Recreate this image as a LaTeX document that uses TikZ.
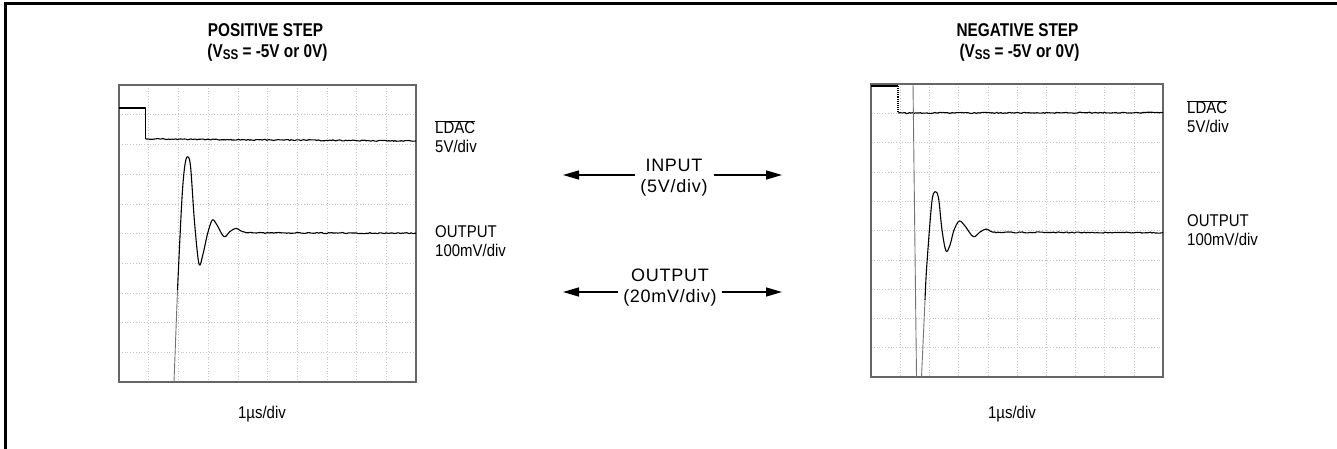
\documentclass[tikz,border=0pt]{standalone}
\usepackage{fontspec}
\usepackage{graphicx}
\setmainfont{Liberation Sans}
\newfontfamily\spc{Liberation Sans}[LetterSpace=4]
\newcommand{\cndx}[1]{\scalebox{0.88}[1]{#1}}
\newcommand{\cndt}[1]{\scalebox{0.83}[1]{#1}}
\usetikzlibrary{arrows.meta,decorations.pathmorphing}
\begin{document}
\begin{tikzpicture}[x=1pt,y=-1pt,
  lbl/.style={font=\fontsize{17}{19}\selectfont, anchor=base west, inner sep=0pt},
  ttl/.style={font=\bfseries\fontsize{18.5}{21}\selectfont, anchor=base, inner sep=0pt},
  ctr/.style={font=\spc\fontsize{18}{21}\selectfont, align=center, inner sep=0pt},
  scope box/.style={draw=black!60, line width=1.3pt},
  gridline/.style={gray!45, line width=0.6pt, dash pattern=on 0.8pt off 2pt},
  trace/.style={black, line width=1.1pt, line join=round},
  noisy/.style={trace, decorate, decoration={random steps, segment length=1.6pt, amplitude=0.55pt}},
  fast/.style={black!55, line width=0.9pt},
  arr/.style={line width=1.4pt, -{Triangle[length=16pt,width=9pt]}}]
\pgfmathsetseed{11}
\fill[white] (0,0) rectangle (1337,449);
\useasboundingbox (0,0) rectangle (1337,449);
% outer frame (top and left edges)
\draw[line width=2.8pt, line join=miter] (5.5,449) -- (5.5,3.2) -- (1337,3.2);

% ---------- left scope ----------
\foreach \i in {1,...,9} {
  \draw[gridline] ({119+\i*29.7},85) -- ({119+\i*29.7},382);
  \draw[gridline] (119,{85+\i*29.7}) -- (416,{85+\i*29.7});
}
\node[scope box, minimum width=297pt, minimum height=297pt, inner sep=0pt] (boxL) at (267.5,233.5) {};
% LDAC trace
\draw[trace] (119,108) -- (145.7,108) -- (145.7,139);
\draw[noisy] (145.7,139) -- (416,141);
% output trace
\draw[fast] (174,382) -- (177.5,290);
\draw[trace] plot[smooth, tension=0.55] coordinates {(177.5,290) (181.7,203) (184.5,168) (187.3,156.7) (190.5,166) (194.5,222) (199,264) (203,254) (207.5,234) (212.3,220) (217,225) (224,236.7) (230,231.5) (236,228.3) (241,231) (246.7,232.7)};
\draw[noisy] (246.7,232.7) -- (416,233.3);

% ---------- right scope ----------
\foreach \i in {1,...,9} {
  \draw[gridline] ({871+\i*29.2},84) -- ({871+\i*29.2},377);
  \draw[gridline] (871,{84+\i*29.3}) -- (1163,{84+\i*29.3});
}
\node[scope box, minimum width=292pt, minimum height=293pt, inner sep=0pt] (boxR) at (1017,230.5) {};
% LDAC trace
\draw[trace] (871,86) -- (898,86);
\draw[trace, densely dotted] (898,86) -- (898,113);
\draw[noisy] (898,113) -- (1163,112.6);
% glitch and output trace
\draw[fast] (913,84) -- (916.5,377);
\draw[fast] (921.5,377) -- (925,300);
\draw[trace] plot[smooth, tension=0.55] coordinates {(925,300) (926.7,266.7) (931.7,203.3) (935,191.7) (938.5,198) (942,230) (946,251) (950,245) (954,230) (959.3,221) (965,226) (973.3,236.7) (980,232) (986,229) (990,231) (993.3,232.3)};
\draw[noisy] (993.3,232.3) -- (1163,232.7);

% ---------- titles ----------
\node[ttl] (tpl1) at (265.5,36.7) {\cndt{POSITIVE STEP}};
\node[ttl] (tpl2) at (267.5,57.5) {\cndt{(V\raisebox{-2.5pt}{\fontsize{14}{14}\selectfont SS} = -5V or 0V)}};
\node[ttl] (tnl1) at (1017.5,36.7) {\cndt{NEGATIVE STEP}};
\node[ttl] (tnl2) at (1019.5,57.5) {\cndt{(V\raisebox{-2.5pt}{\fontsize{14}{14}\selectfont SS} = -5V or 0V)}};

% ---------- scope labels ----------
\node[lbl] (ldacL) at (435,134) {\cndx{$\overline{\hbox{LDAC}}$}};
\node[lbl] (ldacLs) at (435,153) {\cndx{5V/div}};
\node[lbl] (outL) at (435,237) {\cndx{OUTPUT}};
\node[lbl] (outLs) at (435,256) {\cndx{100mV/div}};
\node[lbl] (ldacR) at (1187,114) {\cndx{$\overline{\hbox{LDAC}}$}};
\node[lbl] (ldacRs) at (1187,133) {\cndx{5V/div}};
\node[lbl] (outR) at (1187,226) {\cndx{OUTPUT}};
\node[lbl] (outRs) at (1187,245) {\cndx{100mV/div}};
\node[lbl, anchor=base] (timeL) at (262,418) {\cndx{1\textmu s/div}};
\node[lbl, anchor=base] (timeR) at (1012,418) {\cndx{1\textmu s/div}};

% ---------- centre legend ----------
\node[ctr] (inp) at (674,178) {INPUT\\(5V/div)};
\node[ctr] (outp) at (670,288) {OUTPUT\\(20mV/div)};
\coordinate (inLa) at (635,175);
\coordinate (inLb) at (563,175);
\coordinate (inRa) at (714,175);
\coordinate (inRb) at (782,175);
\coordinate (ouLa) at (618,292);
\coordinate (ouLb) at (563,292);
\coordinate (ouRa) at (722,292);
\coordinate (ouRb) at (782,292);
\draw[arr] (inLa) -- (inLb);
\draw[arr] (inRa) -- (inRb);
\draw[arr] (ouLa) -- (ouLb);
\draw[arr] (ouRa) -- (ouRb);
\end{tikzpicture}
\end{document}
